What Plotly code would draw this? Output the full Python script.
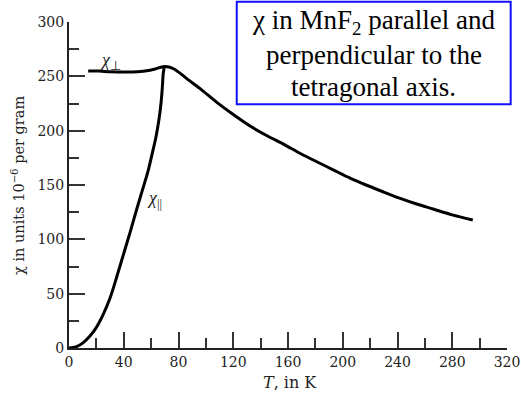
import plotly.graph_objects as go

# chi perpendicular to the tetragonal axis
T_perp = [14, 22, 30, 40, 50, 58, 63, 67, 70, 73, 77, 82, 88, 96, 108, 120, 132, 144,
          157, 169, 181, 193, 205, 217, 230, 242, 254, 266, 280, 295]
chi_perp = [255, 254.8, 254.3, 254, 254.2, 255.3, 256.8, 258.3, 259, 258.6, 256.5, 252,
            246, 238.5, 226, 214.8, 204.5, 195.8, 187.4, 179, 171.4, 164, 156.5, 150, 143.5,
            137.7, 132.5, 127.9, 122.5, 117.8]

# chi parallel to the tetragonal axis
T_par = [0, 5, 10, 15, 20, 25, 30, 35, 40, 45, 50, 55, 58, 61, 63.5, 65.7, 67.2, 68.2, 68.8, 69.5]
chi_par = [0, 1, 4.5, 10.5, 19, 31, 46, 66, 87, 108, 130, 151, 164, 180, 194, 210, 225, 240, 252, 258]

x_ticks = [0, 40, 80, 120, 160, 200, 240, 280, 320]
y_ticks = [0, 50, 100, 150, 200, 250, 300]

x_title = "<i>T</i>, in K"
y_title = "χ in units 10<sup>−6</sup> per gram"
box_lines = ["χ in MnF<sub>2</sub> parallel and", "perpendicular to the", "tetragonal axis."]

serif = "Liberation Serif"
tickfont = dict(family="DejaVu Serif", size=14, color="#222")

fig = go.Figure()
fig.add_trace(go.Scatter(x=T_par, y=chi_par, mode="lines",
                         line=dict(color="black", width=3, shape="spline", smoothing=0.8),
                         hoverinfo="skip", showlegend=False))
fig.add_trace(go.Scatter(x=T_perp, y=chi_perp, mode="lines",
                         line=dict(color="black", width=3, shape="spline", smoothing=0.8),
                         hoverinfo="skip", showlegend=False))

axis_common = dict(showline=True, linewidth=2, linecolor="#222", ticks="inside",
                   ticklen=16, tickwidth=1.5, tickcolor="#333", showgrid=False,
                   zeroline=False, tickfont=tickfont, automargin=False)

fig.update_xaxes(range=[0, 320], tickvals=x_ticks, ticktext=[str(v) for v in x_ticks],
                 minor=dict(dtick=20, tick0=0, ticks="inside", ticklen=10, tickwidth=1.5,
                            tickcolor="#333", showgrid=False),
                 **axis_common)
fig.update_yaxes(range=[0, 300], tickvals=y_ticks, ticktext=[str(v) for v in y_ticks],
                 minor=dict(dtick=25, tick0=0, ticks="inside", ticklen=10, tickwidth=1.5,
                            tickcolor="#333", showgrid=False),
                 **axis_common)

# axis titles
fig.add_annotation(x=0.5046, y=-0.107, xref="paper", yref="paper", showarrow=False,
                   xanchor="center", yanchor="middle", text=x_title,
                   font=dict(family="DejaVu Serif", size=16, color="#222"))
fig.add_annotation(x=-0.1164, y=0.497, xref="paper", yref="paper", showarrow=False,
                   xanchor="center", yanchor="middle", textangle=-90, text=y_title,
                   font=dict(family="DejaVu Serif", size=14.5, color="#222"))

fig.add_annotation(x=30.5, y=264, xref="x", yref="y", showarrow=False,
                   text="<i>χ</i><sub>⊥</sub>", font=dict(family=serif, size=18, color="#222"))
fig.add_annotation(x=62.5, y=137, xref="x", yref="y", showarrow=False,
                   text="<i>χ</i><sub>||</sub>", font=dict(family=serif, size=18, color="#222"))

# blue-bordered caption box
fig.add_shape(type="rect", xref="paper", yref="paper", x0=0.383, x1=1.0084, y0=0.7475, y1=1.0623,
              line=dict(color="#1010ff", width=2), fillcolor="white", layer="above")
for txt, yy in zip(box_lines, [1.0015, 0.9003, 0.8006]):
    fig.add_annotation(x=0.6957, y=yy, xref="paper", yref="paper", xanchor="center", yanchor="middle",
                       showarrow=False, text=txt, font=dict(family=serif, size=27, color="black"))

fig.update_layout(width=521, height=396, margin=dict(l=69, r=14, t=22, b=48),
                  paper_bgcolor="white", plot_bgcolor="white", hovermode=False)

fig.write_html("out.html", config={"displayModeBar": False})
